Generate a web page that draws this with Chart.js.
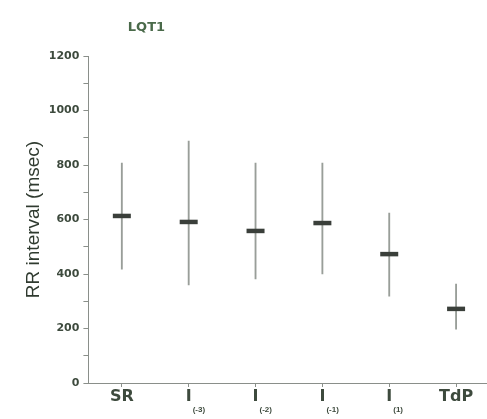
<!DOCTYPE html>
<html>
<head>
<meta charset="utf-8">
<script src="https://cdn.jsdelivr.net/npm/chart.js@4/dist/chart.umd.min.js"></script>
<style>
  html, body { margin: 0; padding: 0; background: #fff; overflow: hidden; }
  #wrap { width: 503px; height: 419px; }
  canvas { display: block; }
</style>
</head>
<body>
<div id="wrap"><canvas id="grafico"></canvas></div>
<script>
// categorias e valores
const categorias = ["SR", "I", "I", "I", "I", "TdP"];
const subscritos = ["", "(-3)", "(-2)", "(-1)", "(1)", ""];
const media = [613, 591, 558, 587, 473, 272];
const minimo = [418, 360, 382, 400, 319, 198];
const maximo = [807, 888, 807, 807, 624, 363];
const yTicks = [0, 200, 400, 600, 800, 1000, 1200];

const corTexto = "#3d4a3d";

// desenha titulo e rotulos com subscrito
const rotulos = {
  id: "rotulos",
  afterDraw(chart) {
    const ctx = chart.ctx;
    const x = chart.scales.x;
    const area = chart.chartArea;
    ctx.save();
    ctx.fillStyle = "#4a6a4a";
    ctx.font = "bold 13px 'DejaVu Sans', sans-serif";
    ctx.textAlign = "center";
    ctx.textBaseline = "middle";
    ctx.fillText("LQT1", area.left + 58, 28);

    ctx.fillStyle = corTexto;
    categorias.forEach((c, i) => {
      const px = x.getPixelForValue(i);
      const py = area.bottom + 14;
      ctx.font = "bold 16px 'DejaVu Sans', sans-serif";
      ctx.textAlign = "center";
      ctx.textBaseline = "middle";
      ctx.fillText(c, px, py);
      if (subscritos[i]) {
        ctx.font = "bold 8px 'Liberation Sans', Arial, sans-serif";
        ctx.textAlign = "left";
        ctx.fillText(subscritos[i], px + 4, py + 13);
      }
    });
    ctx.restore();
  }
};

new Chart(document.getElementById("grafico"), {
  data: {
    labels: categorias,
    datasets: [
      {
        type: "bar",
        data: minimo.map((v, i) => [v, maximo[i]]),
        backgroundColor: "#999e99",
        borderWidth: 0,
        barThickness: 1.2,
        grouped: false,
        order: 2
      },
      {
        type: "line",
        data: media,
        showLine: false,
        pointStyle: "line",
        pointRadius: 9,
        borderColor: "#3a3f3a",
        borderWidth: 4.5,
        order: 1
      }
    ]
  },
  plugins: [rotulos],
  options: {
    responsive: true,
    maintainAspectRatio: false,
    animation: false,
    layout: { padding: { top: 56, right: 0, left: 22, bottom: 32 } },
    plugins: {
      legend: { display: false },
      tooltip: { enabled: false }
    },
    scales: {
      x: {
        offset: true,
        border: { color: "#8a8f8a", width: 1 },
        grid: { display: true, drawOnChartArea: false, drawTicks: true, tickLength: 4, color: "#8a8f8a", offset: false },
        ticks: { display: false }
      },
      y: {
        min: 0,
        max: 1200,
        border: { color: "#8a8f8a", width: 1 },
        grid: { drawOnChartArea: false, drawTicks: true, tickLength: 5, color: "#8a8f8a" },
        ticks: {
          stepSize: 100,
          color: corTexto,
          padding: 4,
          font: { size: 11, weight: "bold", family: "'DejaVu Sans', sans-serif" },
          callback: v => yTicks.includes(v) ? v : ""
        },
        title: {
          display: true,
          text: "RR interval (msec)",
          color: "#2f3a2f",
          padding: { top: 0, bottom: 0 },
          font: { size: 19, family: "'Liberation Sans', Arial, sans-serif" }
        }
      }
    }
  }
});
</script>
</body>
</html>
